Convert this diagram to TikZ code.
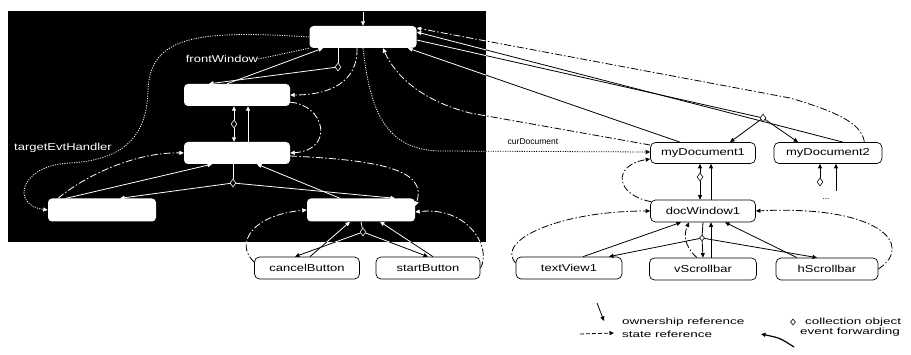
\documentclass[tikz,border=0pt]{standalone}
\usepackage{fontspec}
\setmainfont{Liberation Sans}
\newfontfamily\wf[FakeStretch=1.3]{Liberation Sans}
\newfontfamily\lf[FakeStretch=1.5]{Liberation Sans}
\newfontfamily\nf{Liberation Sans}
\usetikzlibrary{shapes.geometric,arrows.meta}
\newcommand\linecol{black}
\tikzset{
  tipa/.style={-{Triangle[length=4.5pt,width=4pt]}},
  con/.style={line width=0.8pt, draw=\linecol},
  own/.style={con, tipa},
  sref/.style={con, dash pattern=on 7pt off 2.2pt on 1.5pt off 2.2pt},
  dots/.style={con, dash pattern=on 1.1pt off 1.3pt},
  wbox/.style={fill=white, rounded corners=4pt, minimum height=22pt, inner sep=0pt},
  bbox/.style={draw=black, fill=white, rounded corners=5pt, minimum height=21pt, inner sep=0pt, line width=0.7pt, font=\wf\fontsize{10}{12}\selectfont},
  dmdw/.style={diamond, draw=white, fill=black, inner sep=0pt, minimum width=6pt, minimum height=8pt, line width=0.6pt},
  dmdb/.style={diamond, draw=black, fill=white, inner sep=0pt, minimum width=6pt, minimum height=8pt, line width=0.6pt},
  lbl/.style={font=\wf\fontsize{10}{12}\selectfont, inner sep=0pt},
  leg/.style={font=\lf\fontsize{9}{10}\selectfont, inner sep=0pt, anchor=west},
}
\newcommand\crosslines{%
  \draw[sref,tipa] ([xshift=-18pt]doc2.north east) .. controls (862,-126) and (845,-114) .. (790,-98) -- ([yshift=9pt]T.east);
  \draw[con] ([yshift=-3pt]T.east) -- (d4);
  \draw[own] ([xshift=15pt]doc2.north) -- ([yshift=5pt]T.east);
  \draw[own] ([xshift=-23pt]doc1.north) -- ([xshift=45pt]T.south);
  \draw[sref,tipa] ([yshift=8pt]doc1.west) -- (470,-113) .. controls (420,-100) and (395,-75) .. ([xshift=20pt]T.south);
  \draw[dots,tipa] (T.south) .. controls (370,-110) and (385,-150) .. (440,-151) -- ([yshift=1pt]doc1.west);
  \draw[sref,tipa] ([yshift=6pt]cancel.west) .. controls (235,-245) and (250,-215) .. (BR.west);
  \draw[sref,tipa] (start.east) .. controls (492,-250) and (470,-206) .. ([yshift=-2pt]BR.east);
  \draw[own] (d3) -- ([xshift=-12pt]cancel.north);
  \draw[own] (d3) -- (start.north);
  \draw[own] ([xshift=3pt]cancel.north) -- ([xshift=-11pt]BR.south);
  \draw[own] ([xshift=5pt]start.north) -- ([xshift=19pt]BR.south);
}
\begin{document}
\begin{tikzpicture}[x=1pt,y=1pt]
\useasboundingbox (0,0) rectangle (911,-355);
\fill[black] (8,-11) rectangle (486,-242);

% nodes in the black panel
\node[wbox, minimum width=107pt] (T) at (363,-37) {};
\node[wbox, minimum width=106pt] (F) at (237,-95) {};
\node[wbox, minimum width=106pt] (M) at (237,-153) {};
\node[wbox, minimum width=108pt, minimum height=23pt] (BL) at (102,-210) {};
\node[wbox, minimum width=108pt, minimum height=23pt] (BR) at (361,-210) {};
\node[dmdw] (d1) at (338,-67) {};
\node[dmdw] (dFM) at (234,-124) {};
\node[dmdw] (d2) at (233,-183) {};
\node[dmdw] (d3) at (363,-232) {};
\coordinate (top0) at (363,-12);
\node[lbl, text=white] (lblF) at (222,-59) {frontWindow};
\node[lbl, text=white] (lblT) at (63,-148) {targetEvtHandler};

% nodes on white
\node[bbox, minimum width=105pt] (doc1) at (703,-153) {myDocument1};
\node[bbox, minimum width=108pt] (doc2) at (828,-153) {myDocument2};
\node[bbox, minimum width=105pt, minimum height=22pt] (D) at (703,-211) {docWindow1};
\node[bbox, minimum width=105pt, minimum height=22pt] (cancel) at (307,-268) {cancelButton};
\node[bbox, minimum width=104pt, minimum height=22pt] (start) at (428,-268) {startButton};
\node[bbox, minimum width=106pt, minimum height=22pt] (text) at (569,-268) {textView1};
\node[bbox, minimum width=107pt, minimum height=22pt] (vs) at (703,-269) {vScrollbar};
\node[bbox, minimum width=102pt, minimum height=22pt] (hs) at (827,-269) {hScrollbar};
\node[dmdb] (d4) at (763,-118) {};
\node[dmdb] (d5) at (700,-177) {};
\node[dmdb] (d6) at (820,-182) {};
\node[dmdb, minimum width=5pt, minimum height=6pt] (d7) at (702,-238) {};
\coordinate (c6) at (836,-191);
\node[font=\nf\fontsize{8.5}{10}\selectfont, inner sep=0pt] (dots2) at (826,-199) {...};
\node[font=\nf\fontsize{8.5}{10}\selectfont, inner sep=0pt] (lblC) at (533,-142) {curDocument};

% connectors crossing the panel edge: black outside, white inside
\crosslines
\begin{scope}
  \clip (8,-11) rectangle (486,-242);
  \renewcommand\linecol{white}
  \crosslines
\end{scope}

% connectors inside the panel
\begin{scope}
  \renewcommand\linecol{white}
  \draw[own] (top0) -- (T.north);
  \draw[con] ([xshift=-25pt]T.south) -- (d1);
  \draw[own] (d1) -- ([xshift=-28pt]F.north);
  \draw[own] ([xshift=-10pt]F.north) -- ([xshift=-40pt]T.south);
  \draw[dots] (lblF.east) -- (T.south west);
  \draw[sref,tipa] ([xshift=-6pt]T.south) .. controls (358,-82) and (330,-95) .. (F.east);
  \draw[sref,tipa] ([yshift=4pt]F.south east) .. controls (325,-105) and (335,-150) .. (M.east);
  \draw[own] (dFM) -- ([xshift=-3pt]F.south);
  \draw[own] (dFM) -- ([xshift=-3pt]M.north);
  \draw[own] ([xshift=11pt]M.north) -- ([xshift=11pt]F.south);
  \draw[sref,tipa] ([yshift=-3pt]M.east) .. controls (380,-160) and (428,-170) .. ([yshift=4pt]BR.east);
  \draw[sref,tipa] ([xshift=-44pt]BL.north) .. controls (90,-172) and (140,-152) .. (M.west);
  \draw[dots,tipa] (T.west) .. controls (200,-30) and (150,-35) .. (148,-90) .. controls (147,-140) and (120,-160) .. (70,-163) .. controls (20,-165) and (10,-205) .. (BL.west);
  \draw[con] ([xshift=-4pt]M.south) -- (d2);
  \draw[own] (d2) -- ([xshift=18pt]BL.north);
  \draw[own] ([xshift=-36pt]BL.north) -- ([xshift=-25pt]M.south);
  \draw[own] (d2) -- ([xshift=34pt]BR.north);
  \draw[own] ([xshift=-21pt]BR.north) -- ([xshift=20pt]M.south);
  \draw[con] (BR.south) -- (d3);
\end{scope}

% connectors on white
\draw[own] (d4) -- ([xshift=27pt]doc1.north);
\draw[own] (d4) -- ([xshift=-30pt]doc2.north);
\draw[own] (d5) -- ([xshift=-3pt]doc1.south);
\draw[own] (d5) -- ([xshift=-3pt]D.north);
\draw[own] ([xshift=8pt]D.north) -- ([xshift=8pt]doc1.south);
\draw[own] (d6) -- ([xshift=-8pt]doc2.south);
\draw[own] (c6) -- ([xshift=8pt]doc2.south);
\draw[sref,tipa] ([xshift=1pt,yshift=-2pt]D.north west) .. controls (615,-195) and (612,-165) .. ([yshift=-6pt]doc1.west);
\draw[sref,tipa] ([yshift=5pt]text.west) .. controls (495,-240) and (560,-211) .. (D.west);
\draw[sref,tipa] (hs.east) .. controls (915,-245) and (880,-205) .. (D.east);
\draw[con] (D.south) -- (d7);
\draw[own] (d7) -- ([xshift=40pt]text.north);
\draw[own] (d7) -- (vs.north);
\draw[own] (d7) -- ([xshift=-10pt]hs.north);
\draw[own] ([xshift=14pt]text.north) -- ([xshift=-22pt]D.south);
\draw[own] ([xshift=-30pt]hs.north) -- ([xshift=22pt]D.south);
\draw[own] ([xshift=8pt]vs.north) -- ([xshift=8pt]D.south);
\draw[sref,tipa] ([xshift=-6pt]vs.north) .. controls (688,-250) and (682,-238) .. ([xshift=-14pt]D.south);

% legend
\coordinate (lo1) at (597,-303);
\coordinate (lo2) at (604,-321);
\draw[own] (lo1) -- (lo2);
\node[leg] (lg1) at (622,-322) {ownership reference};
\node[dmdb, minimum width=5pt, minimum height=6pt] (lgd) at (793,-322) {};
\node[leg] (lg2) at (805,-322) {collection object};
\coordinate (ls1) at (580,-334);
\coordinate (ls2) at (614,-333);
\draw[con, dash pattern=on 4pt off 2pt, tipa] (ls1) -- (ls2);
\node[leg] (lg3) at (622,-334) {state reference};
\coordinate (le1) at (794,-347);
\coordinate (le2) at (761,-334);
\draw[con, line width=1.2pt, tipa] (le1) .. controls (780,-338) .. (le2);
\node[leg] (lg4) at (800,-332) {event forwarding};
\end{tikzpicture}
\end{document}
